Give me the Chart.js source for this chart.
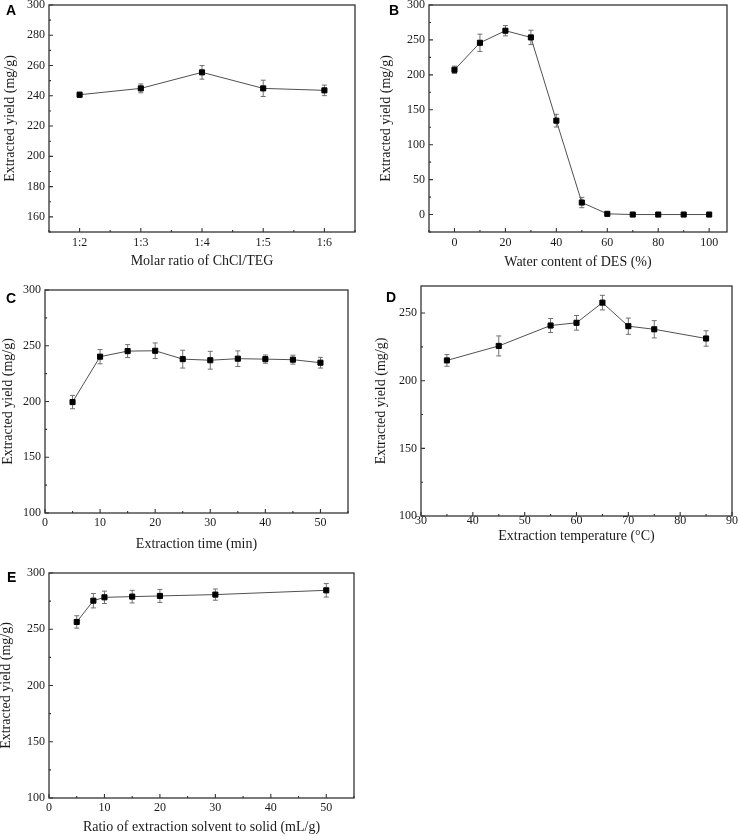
<!DOCTYPE html>
<html>
<head>
<meta charset="utf-8">
<script src="https://cdn.jsdelivr.net/npm/chart.js@4.4.0/dist/chart.umd.min.js"></script>
<style>
  body { margin: 0; background: #fff; width: 738px; height: 836px; position: relative; overflow: hidden; }
  canvas { position: absolute; }
  .tag { position: absolute; font: bold 14px "Liberation Sans", Arial, sans-serif; line-height: 14px; color: #000; }
</style>
</head>
<body>
<canvas id="chartA"></canvas>
<canvas id="chartB"></canvas>
<canvas id="chartC"></canvas>
<canvas id="chartD"></canvas>
<canvas id="chartE"></canvas>
<div class="tag" style="left:6px;top:3px">A</div>
<div class="tag" style="left:389px;top:3px">B</div>
<div class="tag" style="left:6px;top:291px">C</div>
<div class="tag" style="left:386px;top:290px">D</div>
<div class="tag" style="left:7px;top:570px">E</div>
<script>
// A: molar ratio
const ratioLabels = ['1:2', '1:3', '1:4', '1:5', '1:6'];
const ratioYield = [240.7, 244.9, 255.5, 244.9, 243.6];
const ratioErr = [1.7, 2.9, 4.5, 5.4, 3.5];
const ratioYTicks = [160, 180, 200, 220, 240, 260, 280, 300];

// B: water content
const waterContent = [0, 10, 20, 30, 40, 50, 60, 70, 80, 90, 100];
const waterYield = [207.2, 245.9, 263.2, 253.6, 134.4, 17.2, 1.0, 0, 0, 0, 0];
const waterErr = [5.3, 12.4, 7.4, 10.3, 9.1, 7.4, 1.5, 0.8, 0.5, 0.5, 0.5];
const waterXTicks = [0, 20, 40, 60, 80, 100];
const waterYTicks = [0, 50, 100, 150, 200, 250, 300];

// C: extraction time
const timeMin = [5, 10, 15, 20, 25, 30, 35, 40, 45, 50];
const timeYield = [199.5, 240.2, 245.2, 245.5, 238, 237, 238.4, 238, 237.5, 234.8];
const timeErr = [6, 6.4, 5.8, 7, 8, 8, 7, 3.7, 4, 4.8];
const timeXTicks = [0, 10, 20, 30, 40, 50];
const timeYTicks = [100, 150, 200, 250, 300];

// D: extraction temperature
const tempC = [35, 45, 55, 60, 65, 70, 75, 85];
const tempYield = [215, 225.7, 240.8, 242.8, 257.7, 240.3, 238, 231.2];
const tempErr = [4.3, 7.4, 5.2, 5.4, 5.4, 6, 6.4, 5.7];
const tempXTicks = [30, 40, 50, 60, 70, 80, 90];
const tempYTicks = [100, 150, 200, 250];

// E: solvent to solid ratio
const solventRatio = [5, 8, 10, 15, 20, 30, 50];
const solventYield = [256.5, 275.4, 278.4, 279, 279.6, 280.8, 284.6];
const solventErr = [5.5, 6.4, 5.5, 5.6, 5.8, 5, 6];
const solventXTicks = [0, 10, 20, 30, 40, 50];
const solventYTicks = [100, 150, 200, 250, 300];

const yTitle = 'Extracted yield (mg/g)';

Chart.defaults.font.family = '"Liberation Serif", "Times New Roman", serif';
Chart.defaults.color = '#1a1a1a';
Chart.defaults.animation = false;

// error bars under the line, then a closed frame with inward ticks (major + minor)
const framePlugin = {
  id: 'frame',
  beforeDatasetsDraw(chart) {
    const {ctx, scales: {x, y}} = chart;
    const ds = chart.data.datasets[0];
    ctx.save();
    ctx.strokeStyle = '#707070';
    ctx.lineWidth = 1;
    ds.data.forEach((p, i) => {
      const px = x.getPixelForValue(p.x);
      const top = y.getPixelForValue(p.y + ds.errors[i]);
      const bot = y.getPixelForValue(p.y - ds.errors[i]);
      ctx.beginPath();
      ctx.moveTo(px, top); ctx.lineTo(px, bot);
      ctx.moveTo(px - 2.5, top); ctx.lineTo(px + 2.5, top);
      ctx.moveTo(px - 2.5, bot); ctx.lineTo(px + 2.5, bot);
      ctx.stroke();
    });
    ctx.restore();
  },
  afterDraw(chart) {
    const {ctx, chartArea: a, scales: {x, y}} = chart;
    ctx.save();
    ctx.strokeStyle = '#333';
    ctx.lineWidth = 1.3;
    ctx.strokeRect(a.left, a.top, a.right - a.left, a.bottom - a.top);
    ctx.lineWidth = 1.1;
    const marks = (scale, draw) => {
      const major = scale.ticks.map(t => t.value);
      major.forEach(v => draw(scale.getPixelForValue(v), 4));
      const step = (major[1] - major[0]) / 2;
      for (let k = Math.ceil(scale.min / step); k * step <= scale.max + 1e-9; k++) {
        const v = k * step;
        if (!major.some(m => Math.abs(m - v) < 1e-9)) draw(scale.getPixelForValue(v), 2);
      }
    };
    ctx.beginPath();
    marks(x, (px, len) => { ctx.moveTo(px, a.bottom); ctx.lineTo(px, a.bottom - len); });
    marks(y, (py, len) => { ctx.moveTo(a.left, py); ctx.lineTo(a.left + len, py); });
    ctx.stroke();
    ctx.restore();
  }
};

function makePanel(id, pos, xs, ys, errs, ax) {
  const cv = document.getElementById(id);
  cv.width = pos.L + (pos.r - pos.l) + pos.R;
  cv.height = pos.T + (pos.b - pos.t) + pos.B;
  cv.style.left = (pos.l - pos.L) + 'px';
  cv.style.top = (pos.t - pos.T) + 'px';

  return new Chart(cv.getContext('2d'), {
    type: 'line',
    data: {
      datasets: [{
        data: xs.map((v, i) => ({x: v, y: ys[i]})),
        errors: errs,
        borderColor: '#505050',
        borderWidth: 1,
        tension: 0,
        pointStyle: 'rect',
        pointRadius: 3.6,
        pointBackgroundColor: '#000',
        pointBorderColor: '#000',
        pointBorderWidth: 1,
        clip: false
      }]
    },
    options: {
      responsive: false,
      events: [],
      layout: { padding: { left: 0, top: pos.T, right: pos.R, bottom: 0 } },
      plugins: { legend: { display: false }, tooltip: { enabled: false } },
      scales: {
        x: {
          type: 'linear',
          min: ax.xMin, max: ax.xMax,
          grid: { display: false, drawTicks: false },
          border: { display: false },
          afterBuildTicks: s => { s.ticks = ax.xTicks.map(v => ({value: v})); },
          afterFit: s => { s.height = pos.B; s.paddingLeft = 0; s.paddingRight = 0; },
          ticks: {
            autoSkip: false, maxRotation: 0, padding: pos.xPad,
            font: { size: 12 },
            callback: ax.xLabel || (v => v)
          },
          title: { display: true, text: ax.xTitle, font: { size: 14 }, padding: 0 }
        },
        y: {
          min: ax.yMin, max: ax.yMax,
          grid: { display: false, drawTicks: false },
          border: { display: false },
          afterBuildTicks: s => { s.ticks = ax.yTicks.map(v => ({value: v})); },
          afterFit: s => { s.width = pos.L; s.paddingTop = 0; s.paddingBottom = 0; },
          ticks: { autoSkip: false, padding: 4, font: { size: 12 } },
          title: { display: true, text: yTitle, font: { size: 14 }, padding: 0 }
        }
      }
    },
    plugins: [framePlugin]
  });
}

makePanel('chartA',
  {l: 49, t: 5, r: 355, b: 232, L: 47, T: 5, R: 8, B: 38, xPad: 4},
  ratioLabels.map((c, i) => i + 1), ratioYield, ratioErr,
  {xMin: 0.5, xMax: 5.5, xTicks: [1, 2, 3, 4, 5], xLabel: v => ratioLabels[v - 1],
   yMin: 150, yMax: 300, yTicks: ratioYTicks, xTitle: 'Molar ratio of ChCl/TEG'});

makePanel('chartB',
  {l: 429, t: 5, r: 727, b: 232, L: 51, T: 5, R: 8, B: 39, xPad: 4},
  waterContent, waterYield, waterErr,
  {xMin: -10, xMax: 107, xTicks: waterXTicks,
   yMin: -25, yMax: 300, yTicks: waterYTicks, xTitle: 'Water content of DES (%)'});

makePanel('chartC',
  {l: 45, t: 290, r: 348, b: 513, L: 45, T: 10, R: 8, B: 40, xPad: 3},
  timeMin, timeYield, timeErr,
  {xMin: 0, xMax: 55, xTicks: timeXTicks,
   yMin: 100, yMax: 300, yTicks: timeYTicks, xTitle: 'Extraction time (min)'});

makePanel('chartD',
  {l: 421, t: 286, r: 732, b: 516, L: 48, T: 10, R: 6, B: 29, xPad: -2},
  tempC, tempYield, tempErr,
  {xMin: 30, xMax: 90, xTicks: tempXTicks,
   yMin: 100, yMax: 270, yTicks: tempYTicks, xTitle: 'Extraction temperature (°C)'});

makePanel('chartE',
  {l: 49, t: 573, r: 354, b: 798, L: 51, T: 10, R: 8, B: 38, xPad: 3},
  solventRatio, solventYield, solventErr,
  {xMin: 0, xMax: 55, xTicks: solventXTicks,
   yMin: 100, yMax: 300, yTicks: solventYTicks, xTitle: 'Ratio of extraction solvent to solid (mL/g)'});
</script>
</body>
</html>
